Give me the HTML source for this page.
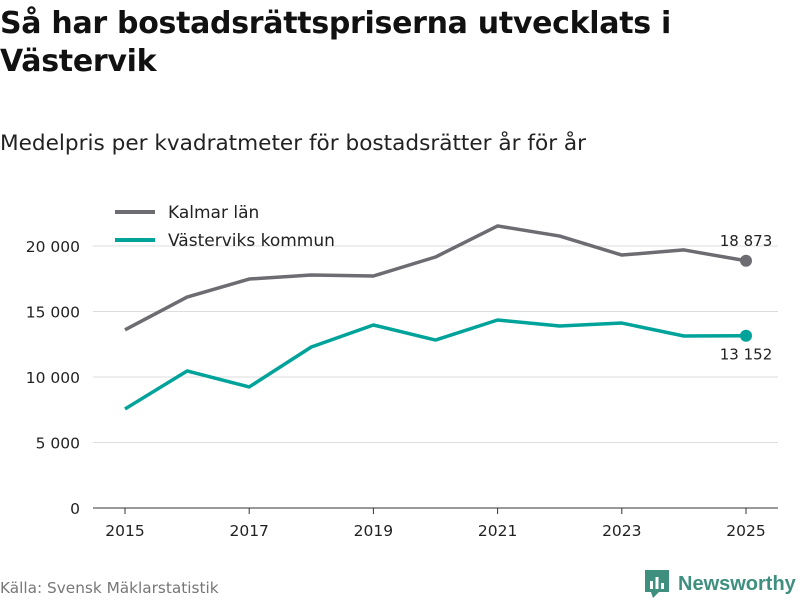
<!DOCTYPE html>
<html><head><meta charset="utf-8">
<style>
body{margin:0;width:800px;height:600px;background:#fff;font-family:"DejaVu Sans",sans-serif;overflow:hidden;position:relative;color:#111}
#title{position:absolute;left:0;top:5px;font-size:30px;font-weight:bold;line-height:38px;letter-spacing:-0.3px}
#subtitle{position:absolute;left:0;top:131px;font-size:21.6px;color:#222}
#source{position:absolute;left:0;top:579px;font-size:15.3px;color:#777}
#logo{position:absolute;left:645px;top:570px;font-size:20px;font-weight:bold;color:#3f8f7f;display:flex;align-items:center;font-family:"Liberation Sans",sans-serif}
svg{position:absolute;left:0;top:0}
</style></head><body>
<div id="title">Så har bostadsrättspriserna utvecklats i<br>Västervik</div>
<div id="subtitle">Medelpris per kvadratmeter för bostadsrätter år för år</div>
<div id="source">Källa: Svensk Mäklarstatistik</div>
<div id="logo"><svg width="26" height="28" style="position:static;margin-right:7px"><rect x="0" y="0" width="24" height="22" fill="#3f8f7f"/><polygon points="6,22 14,22 8,28" fill="#3f8f7f"/><rect x="5" y="11" width="3" height="8" fill="#fff"/><rect x="10.5" y="7" width="3" height="12" fill="#fff"/><rect x="16" y="13" width="3" height="6" fill="#fff"/></svg>Newsworthy</div>
<svg id="chart" width="800" height="600" font-family="DejaVu Sans, sans-serif"></svg>
<script>
const years=[2015,2016,2017,2018,2019,2020,2021,2022,2023,2024,2025];
const kalmar=[13600,16100,17480,17790,17710,19160,21530,20760,19310,19700,18873];
const vastervik=[7560,10460,9240,12290,13970,12820,14350,13890,14120,13130,13152];
const yTicks=[0,5000,10000,15000,20000];
const xTicks=[2015,2017,2019,2021,2023,2025];
const seriesNames=["Kalmar län","Västerviks kommun"];
const colors=["#6d6c72","#00a39a"];
const NS="http://www.w3.org/2000/svg";
const svg=document.getElementById('chart');
const x=v=>125+(v-2015)*62.1;
const y=v=>508-v/20000*262;
const fmt=v=>v===0?"0":String(v).replace(/\B(?=(\d{3})+(?!\d))/g," ");
function mk(t,a){const e=document.createElementNS(NS,t);for(const k in a)e.setAttribute(k,a[k]);svg.appendChild(e);return e;}
yTicks.forEach(t=>{
  const g=mk('line',{x1:93,x2:778,y1:y(t),y2:y(t),stroke:t===0?'#333':'#ddd','stroke-width':1});
  
  
  const l=mk('text',{x:80,y:y(t)+6,'text-anchor':'end','font-size':15.5,fill:'#222'});l.textContent=fmt(t);
  
  
});
xTicks.forEach(t=>{
  const k=mk('line',{x1:x(t),x2:x(t),y1:508,y2:514,stroke:'#333'});
  
  
  const l=mk('text',{x:x(t),y:536,'text-anchor':'middle','font-size':15.5,fill:'#222'});l.textContent=t;
  
  
});
[kalmar,vastervik].forEach((s,i)=>{
  const p=mk('polyline',{points:s.map((v,j)=>x(years[j])+','+y(v)).join(' '),fill:'none',stroke:colors[i],'stroke-width':3.5,'stroke-linejoin':'round'});
  
  
  const last=s[s.length-1];
  const c=mk('circle',{cx:x(years[years.length-1]),cy:y(last),r:6,fill:colors[i]});
  
  
  const l=mk('text',{x:x(years[years.length-1]),y:i?y(last)+24:y(last)-15,'text-anchor':'middle','font-size':15,fill:'#222'});l.textContent=fmt(last);
  
  
  const ly=212+i*28;
  const ll=mk('line',{x1:115,x2:155,y1:ly,y2:ly,stroke:colors[i],'stroke-width':4});
  
  
  const lt=mk('text',{x:168,y:ly+6,'font-size':17,fill:'#222'});lt.textContent=seriesNames[i];
  
  
});
</script>
</body></html>
